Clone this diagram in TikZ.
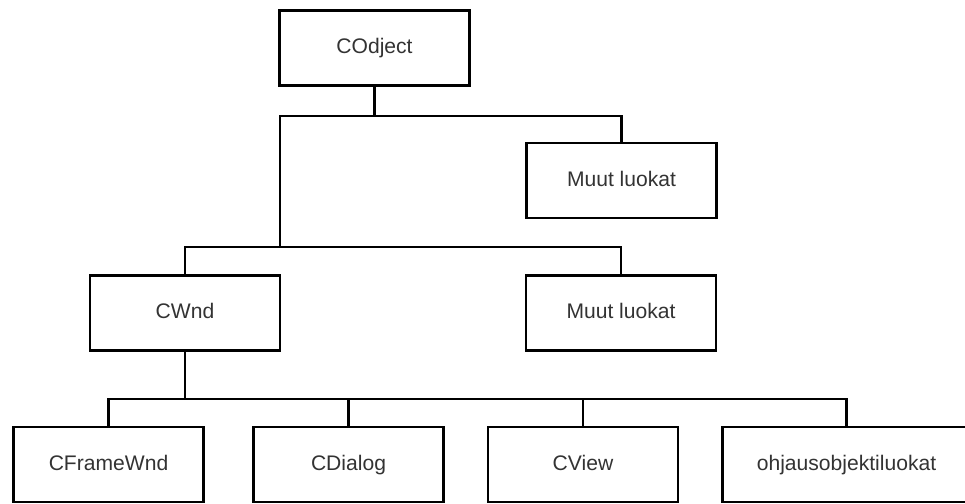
\documentclass[tikz,border=0pt]{standalone}
\usepackage{fontspec}
\setmainfont{Liberation Sans}
\usepackage{tikz}
\usetikzlibrary{calc}

\tikzset{
    luokka/.style={draw, line width=1.6pt, minimum width=3.8cm, minimum height=1.5cm,
        text height=1.6ex, text depth=0.4ex,
        text=black!80, font=\fontsize{12}{14}\selectfont},
    yhteys/.style={line width=1.6pt}
}

\begin{document}
\begin{tikzpicture}[x=0.02cm, y=-0.02cm]
                    \useasboundingbox (0,0) rectangle (965,504);
                    
                    % Luokat
                    \node[luokka] (codj) at (374.5,48) {COdject};
                    \node[luokka] (muut1) at (621.5,180.5) {Muut luokat};
                    \node[luokka] (cwnd) at (185,313) {CWnd};
                    \node[luokka] (muut2) at (621,313) {Muut luokat};
                    \node[luokka] (cframe) at (108.5,464.5) {CFrameWnd};
                    \node[luokka] (cdialog) at (348.5,464.5) {CDialog};
                    \node[luokka] (cview) at (583,464.5) {CView};
                    \node[luokka, minimum width=4.96cm] (ohjaus) at (846.5,464.5) {ohjausobjektiluokat};
                    
                    % Liitoskohdat
                    \coordinate (h1) at (374.5,116);
                    \coordinate (v1) at (280,116);
                    \coordinate (h2) at (280,247);
                    \coordinate (h3) at (185,399);
                    
                    % Yhteydet
                    \draw[yhteys, line width=2.2pt] (codj.south) -- (h1);
                    \draw[yhteys] (h2) -- (v1) -| (muut1.north);
                    \draw[yhteys] (cwnd.north) |- (h2) -| (muut2.north);
                    \draw[yhteys] (cwnd.south) -- (h3);
                    \draw[yhteys] (cframe.north) |- (h3) -| (ohjaus.north);
                    \draw[yhteys] (cdialog.north) -- (cdialog.north |- h3);
                    \draw[yhteys] (cview.north) -- (cview.north |- h3);
                \end{tikzpicture}
\end{document}
